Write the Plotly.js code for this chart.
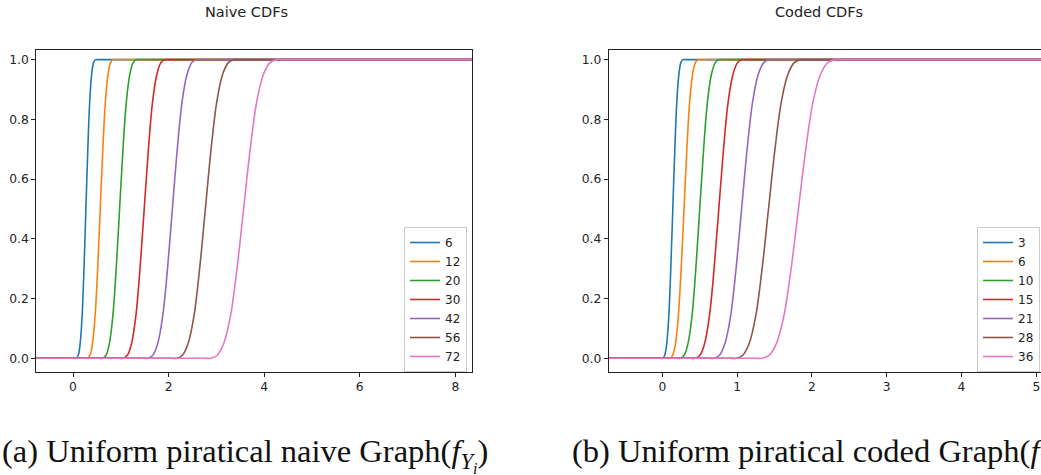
<!DOCTYPE html>
<html>
<head>
<meta charset="utf-8">
<script src="https://cdn.plot.ly/plotly-3.0.1.min.js"></script>
<style>
  html, body { margin: 0; padding: 0; background: #fff; }
  #chart { width: 1041px; height: 475px; }
</style>
</head>
<body>
<div id="chart"></div>
<script>
// ---- data ----
// CDF levels at which each curve's x position was read
// (first entry: last point still on 0; last entry: first point already on 1)
const cdfLevels = [0, 0, 0.01, 0.05, 0.14, 0.30, 0.50, 0.70, 0.86, 0.95, 0.99, 1, 1];

// Naive CDFs (legend labels)
const naiveLabels = ['6', '12', '20', '30', '42', '56', '72'];
const naive6X  = [0.03, 0.07, 0.11, 0.15, 0.19, 0.23, 0.27, 0.31, 0.35, 0.39, 0.43, 0.47, 0.51];
const naive12X = [0.246, 0.30, 0.354, 0.408, 0.462, 0.516, 0.57, 0.624, 0.678, 0.732, 0.786, 0.84, 0.894];
const naive20X = [0.549, 0.62, 0.691, 0.762, 0.833, 0.904, 0.975, 1.046, 1.117, 1.188, 1.259, 1.33, 1.401];
const naive30X = [0.962, 1.05, 1.138, 1.226, 1.314, 1.402, 1.49, 1.578, 1.666, 1.754, 1.842, 1.93, 2.018];
const naive42X = [1.468, 1.57, 1.672, 1.774, 1.876, 1.978, 2.08, 2.182, 2.284, 2.386, 2.488, 2.59, 2.692];
const naive56X = [2.05, 2.17, 2.29, 2.41, 2.53, 2.65, 2.77, 2.89, 3.01, 3.13, 3.25, 3.37, 3.49];
const naive72X = [2.742, 2.88, 3.018, 3.156, 3.294, 3.432, 3.57, 3.708, 3.846, 3.984, 4.122, 4.26, 4.398];
const naiveGrid = [-0.8, 8.4];   // x extent of the sampled grid

// Coded CDFs (legend labels)
const codedLabels = ['3', '6', '10', '15', '21', '28', '36'];
const coded3X  = [-0.022, 0.005, 0.032, 0.059, 0.086, 0.113, 0.14, 0.167, 0.194, 0.221, 0.248, 0.275, 0.302];
const coded6X  = [0.062, 0.10, 0.138, 0.176, 0.214, 0.252, 0.29, 0.328, 0.366, 0.404, 0.442, 0.48, 0.518];
const coded10X = [0.188, 0.24, 0.292, 0.344, 0.396, 0.448, 0.50, 0.552, 0.604, 0.656, 0.708, 0.76, 0.812];
const coded15X = [0.377, 0.44, 0.503, 0.566, 0.629, 0.692, 0.755, 0.818, 0.881, 0.944, 1.007, 1.07, 1.133];
const coded21X = [0.616, 0.69, 0.764, 0.838, 0.912, 0.986, 1.06, 1.134, 1.208, 1.282, 1.356, 1.43, 1.504];
const coded28X = [0.904, 0.99, 1.076, 1.162, 1.248, 1.334, 1.42, 1.506, 1.592, 1.678, 1.764, 1.85, 1.936];
const coded36X = [1.232, 1.33, 1.428, 1.526, 1.624, 1.722, 1.82, 1.918, 2.016, 2.114, 2.212, 2.31, 2.408];
const codedGrid = [-0.8, 5.3];

const yTicks = [0, 0.2, 0.4, 0.6, 0.8, 1.0];
const naiveXTicks = [0, 2, 4, 6, 8];
const codedXTicks = [0, 1, 2, 3, 4, 5];

// ---- styling ----
const colors = ['#1f77b4', '#ff7f0e', '#2ca02c', '#d62728', '#9467bd', '#8c564b', '#e377c2'];
const W = 1041, H = 475;
const tickFont = { family: 'DejaVu Sans', size: 12.3, color: '#222' };

function makeTrace(label, qx, grid, color, xa, ya, leg) {
  return {
    type: 'scatter', mode: 'lines', name: label,
    x: [grid[0]].concat(qx, [grid[1]]),
    y: [0].concat(cdfLevels, [1]),
    xaxis: xa, yaxis: ya, legend: leg,
    line: { color: color, width: 1.6, shape: 'spline', smoothing: 1 },
    hoverinfo: 'skip'
  };
}

const naiveSeries = [naive6X, naive12X, naive20X, naive30X, naive42X, naive56X, naive72X];
const codedSeries = [coded3X, coded6X, coded10X, coded15X, coded21X, coded28X, coded36X];

const traces = [];
naiveSeries.forEach((qx, i) => traces.push(makeTrace(naiveLabels[i], qx, naiveGrid, colors[i], 'x', 'y', 'legend')));
codedSeries.forEach((qx, i) => traces.push(makeTrace(codedLabels[i], qx, codedGrid, colors[i], 'x2', 'y2', 'legend2')));

const yDom = [(H - 371.7) / H, (H - 49.6) / H];

function xAxis(domain, range, ticks, anchor) {
  return {
    domain: domain, range: range, anchor: anchor,
    tickmode: 'array', tickvals: ticks, ticktext: ticks.map(String),
    showgrid: false, zeroline: false,
    showline: true, linecolor: '#222', linewidth: 1, mirror: true,
    ticks: 'outside', ticklen: 4, tickwidth: 1, tickcolor: '#222',
    tickfont: tickFont
  };
}
function yAxis(range, anchor, mirror) {
  return {
    domain: yDom, range: range, anchor: anchor,
    tickmode: 'array', tickvals: yTicks, ticktext: yTicks.map(v => v.toFixed(1)),
    showgrid: false, zeroline: false,
    showline: true, linecolor: '#222', linewidth: 1, mirror: mirror,
    ticks: 'outside', ticklen: 4, tickwidth: 1, tickcolor: '#222',
    tickfont: tickFont
  };
}

const legendStyle = {
  bgcolor: 'rgba(255,255,255,0.8)', bordercolor: '#cccccc', borderwidth: 1,
  font: { family: 'DejaVu Sans', size: 12, color: '#222' },
  xanchor: 'left', yanchor: 'top', tracegroupgap: 0
};

const captionFont = { family: 'Liberation Serif', size: 32.5, color: '#111' };

const layout = {
  width: W, height: H,
  margin: { l: 0, r: 0, t: 0, b: 0 },
  paper_bgcolor: '#fff', plot_bgcolor: '#fff',
  showlegend: true,
  xaxis: xAxis([36.3 / W, 472.3 / W], [-0.768, 8.356], naiveXTicks, 'y'),
  yaxis: yAxis([-0.045, 1.0335], 'x', true),
  xaxis2: xAxis([608.7 / W, 1], [-0.717, 5.063], codedXTicks, 'y2'),
  yaxis2: yAxis([-0.045, 1.0335], 'x2', false),
  legend: Object.assign({}, legendStyle, { x: 404 / W, y: (H - 227) / H }),
  legend2: Object.assign({}, legendStyle, { x: 977 / W, y: (H - 227) / H }),
  annotations: [
    { text: 'Naive CDFs', xref: 'paper', yref: 'paper', x: 246.7 / W, y: (H - 12.3) / H,
      xanchor: 'center', yanchor: 'middle', showarrow: false,
      font: { family: 'DejaVu Sans', size: 14.5, color: '#222' } },
    { text: 'Coded CDFs', xref: 'paper', yref: 'paper', x: 819 / W, y: (H - 12.3) / H,
      xanchor: 'center', yanchor: 'middle', showarrow: false,
      font: { family: 'DejaVu Sans', size: 14.5, color: '#222' } },
    { text: '(a) Uniform piratical naive Graph(<i>f</i><sub><i>Y<sub>i</sub></i></sub>)',
      xref: 'paper', yref: 'paper', x: 0, y: (H - 455) / H,
      xanchor: 'left', yanchor: 'middle', showarrow: false, font: captionFont },
    { text: '(b) Uniform piratical coded Graph(<i>f</i><sub><i>Y<sub>i</sub></i></sub>)',
      xref: 'paper', yref: 'paper', x: 570 / W, y: (H - 455) / H,
      xanchor: 'left', yanchor: 'middle', showarrow: false, font: captionFont }
  ]
};

Plotly.newPlot('chart', traces, layout, { staticPlot: true, displayModeBar: false });
</script>
</body>
</html>
